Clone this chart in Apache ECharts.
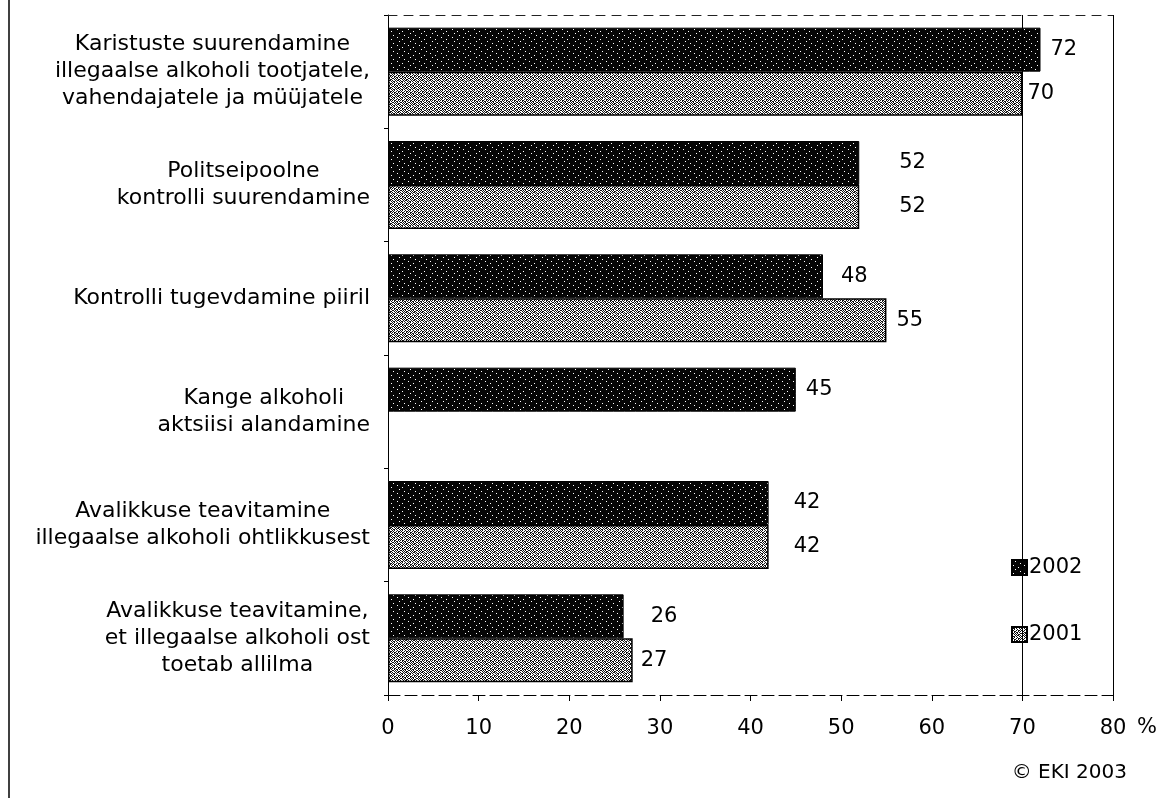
<!DOCTYPE html>
<html>
<head>
<meta charset="utf-8">
<script src="https://cdn.jsdelivr.net/npm/echarts@6/dist/echarts.min.js"></script>
<style>
html,body{margin:0;padding:0;background:#fff;}
#chart{width:1167px;height:798px;}
</style>
</head>
<body>
<div id="chart"></div>
<script>
// ---- data ----
var categories = [
  "Karistuste suurendamine\nillegaalse alkoholi tootjatele,\nvahendajatele ja müüjatele",
  "Politseipoolne\nkontrolli suurendamine",
  "Kontrolli tugevdamine piiril",
  "Kange alkoholi\naktsiisi alandamine",
  "Avalikkuse teavitamine\nillegaalse alkoholi ohtlikkusest",
  "Avalikkuse teavitamine,\net illegaalse alkoholi ost\ntoetab allilma"
];
var seriesNames = ["2002", "2001"];
var values2002 = [72, 52, 48, 45, 42, 26];
var values2001 = [70, 52, 55, null, 42, 27];
var xTicks = [0, 10, 20, 30, 40, 50, 60, 70, 80];

// ---- style: label gaps (px) beside bar ends ----
var gap2002 = [10, 40, 18, 10, 25, 27];
var gap2001 = [5, 40, 10, 0, 25, 8];

// ---- fill patterns ----
function makeTile(bits, fg, bg) {
  var n = bits.length, c = document.createElement('canvas');
  c.width = bits[0].length; c.height = n;
  var g = c.getContext('2d');
  g.fillStyle = bg; g.fillRect(0, 0, c.width, c.height);
  g.fillStyle = fg;
  for (var y = 0; y < n; y++) for (var x = 0; x < bits[y].length; x++)
    if (bits[y][x] === '1') g.fillRect(x, y, 1, 1);
  return c;
}
// '1' = white dot on black
var darkTile = makeTile([
  "00000000000",
  "00010000000",
  "00000000000",
  "00000000100",
  "00000000000",
  "01000000000",
  "00000000000",
  "00000010000"
], '#fff', '#050505');
// '1' = black dot on white
var lightTile = makeTile([
  "10010110",
  "01101001",
  "10100100",
  "01001011",
  "10110010",
  "00101101",
  "11010100",
  "00101011"
], '#111', '#fff');

var font = '"DejaVu Sans", "Liberation Sans", Arial, sans-serif';

function barData(vals, gaps) {
  return vals.map(function (v, i) {
    return { value: v, label: { distance: gaps[i] } };
  });
}

var chart = echarts.init(document.getElementById('chart'), null, { renderer: 'canvas' });
chart.setOption({
  animation: false,
  backgroundColor: '#fff',
  textStyle: { fontFamily: font, color: '#000' },
  grid: { left: 388, right: 54, top: 15, bottom: 103, containLabel: false },
  legend: {
    data: seriesNames,
    orient: 'vertical',
    left: 1006, top: 552,
    itemWidth: 15, itemHeight: 15, itemGap: 46,
    icon: 'rect',
    textStyle: { fontFamily: font, fontSize: 21, color: '#000', padding: [0, 0, 0, -3] },
    selectedMode: false
  },
  xAxis: [{
    type: 'value', min: 0, max: 80, interval: 10,
    axisLine: { show: true, lineStyle: { color: '#000', width: 1, type: [12, 5] } },
    axisTick: { show: true, length: 6, lineStyle: { color: '#000' } },
    axisLabel: {
      margin: 23, fontSize: 21, color: '#000', fontFamily: font,
      customValues: xTicks,
      formatter: function (v) { return String(v); }
    },
    splitLine: { show: false }
  }, {
    type: 'value', min: 0, max: 80, interval: 10, position: 'top',
    axisLine: { show: true, lineStyle: { color: '#222', width: 1, type: [9, 7] } },
    axisTick: { show: false }, axisLabel: { show: false }, splitLine: { show: false }
  }],
  yAxis: {
    type: 'category', data: categories, inverse: true,
    axisLine: { show: true, lineStyle: { color: '#000', width: 1 } },
    axisTick: { show: true, length: 4, lineStyle: { color: '#000' } },
    axisLabel: {
      margin: 18, fontSize: 22, color: '#000', fontFamily: font, lineHeight: 27,
      align: 'right',
      formatter: function (v) {
        return v.split('\n').map(function (s) { return '{c|' + s + '}'; }).join('\n');
      },
      rich: { c: { align: 'center', fontSize: 22, lineHeight: 27, fontFamily: font, color: '#000' } }
    }
  },
  series: [{
    name: '2002', type: 'bar', data: barData(values2002, gap2002),
    barWidth: 44, barGap: '0%',
    itemStyle: { color: { image: darkTile, repeat: 'repeat' }, borderColor: '#000', borderWidth: 1 },
    label: { show: true, position: 'right', fontSize: 21, color: '#000', fontFamily: font },
    markLine: {
      silent: true, symbol: 'none', label: { show: false },
      lineStyle: { color: '#000', width: 1, type: 'solid' },
      data: [{ xAxis: 70 }, { xAxis: 80 }]
    }
  }, {
    name: '2001', type: 'bar', data: barData(values2001, gap2001),
    barWidth: 44, barGap: '0%',
    itemStyle: { color: { image: lightTile, repeat: 'repeat' }, borderColor: '#000', borderWidth: 1.5 },
    label: { show: true, position: 'right', fontSize: 21, color: '#000', fontFamily: font }
  }],
  graphic: [
    { type: 'line', shape: { x1: 9, y1: 0, x2: 9, y2: 798 }, style: { stroke: '#000', lineWidth: 1.5 } },
    { type: 'text', left: 1137, top: 717, style: { text: '%', font: '21px ' + font, fill: '#000' } },
    { type: 'text', right: 40, top: 763, style: { text: '© EKI 2003', font: '20px ' + font, fill: '#000' } }
  ]
});
</script>
</body>
</html>
